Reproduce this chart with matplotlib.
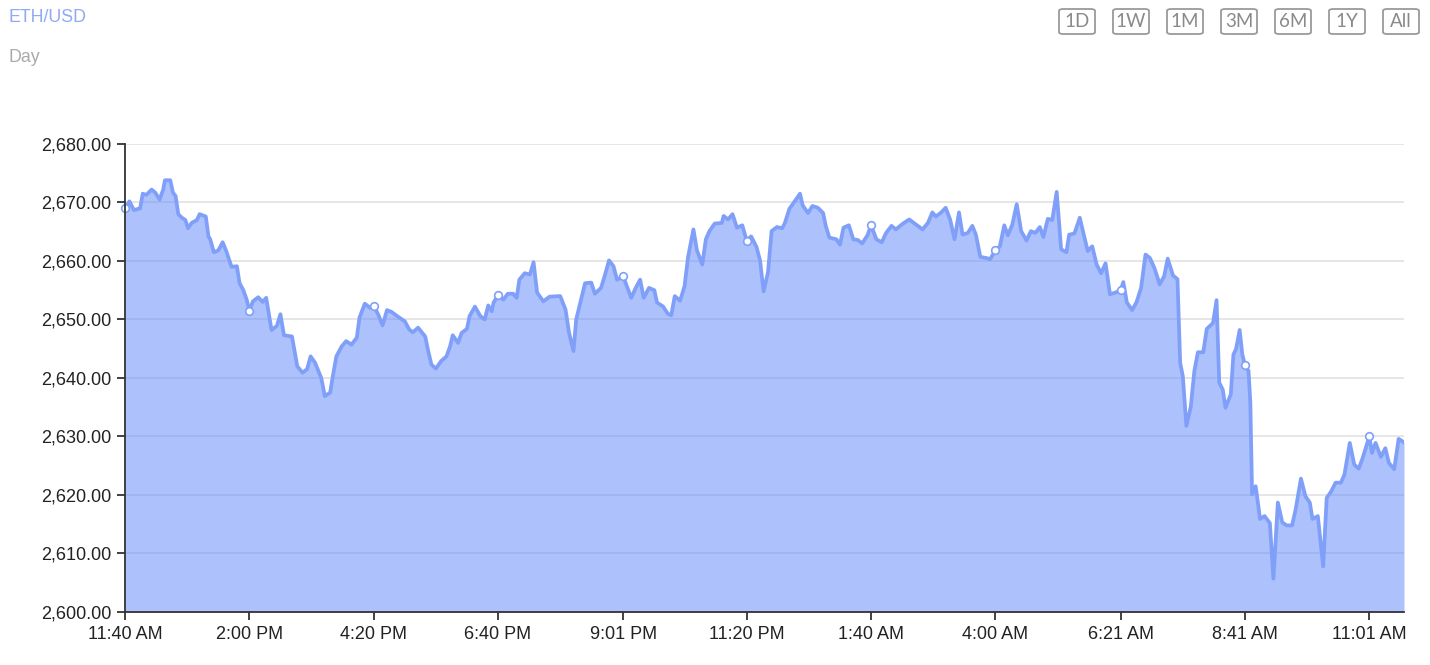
"""ETH/USD day chart: area under a price line, with range buttons across the top."""
import matplotlib
matplotlib.use("Agg")
import matplotlib.pyplot as plt
from matplotlib.patches import FancyBboxPatch
from matplotlib.ticker import FuncFormatter, MultipleLocator

LINE_COLOR = "#809ff8"
FILL_COLOR = "#5d87fb"
GRID_COLOR = "#e6e6e6"
AXIS_COLOR = "#333333"

# minutes since 11:40 AM, and the ETH/USD price at that time
TIMES = [
    0, 5, 10, 17, 20, 24, 30, 34, 39, 43, 45, 51, 54, 57, 60, 64, 68, 71, 75, 81,
    84, 91, 94, 96, 100, 105, 110, 114, 120, 126, 129, 133, 137, 140, 144, 150, 155, 159, 165, 171,
    175, 179, 188, 194, 200, 205, 209, 214, 221, 225, 231, 234, 238, 244, 249, 255, 261, 264, 270, 276,
    280, 285, 290, 295, 300, 309, 315, 320, 324, 330, 338, 341, 345, 350, 356, 362, 366, 369, 375, 379,
    385, 388, 394, 400, 405, 409, 413, 415, 420, 426, 431, 437, 441, 444, 450, 456, 460, 464, 471, 478,
    490, 496, 500, 505, 508, 513, 518, 525, 529, 536, 540, 545, 550, 554, 561, 565, 570, 575, 580, 584,
    590, 596, 599, 606, 611, 615, 619, 625, 630, 634, 640, 644, 650, 654, 658, 664, 672, 674, 679, 684,
    689, 695, 700, 705, 711, 715, 719, 724, 728, 734, 740, 743, 748, 754, 760, 763, 769, 774, 780, 786,
    789, 793, 801, 805, 809, 815, 820, 825, 830, 836, 840, 846, 852, 857, 863, 868, 876, 883, 889, 898,
    904, 909, 913, 919, 924, 929, 934, 939, 943, 949, 954, 958, 963, 970, 974, 980, 985, 990, 994, 999,
    1004, 1009, 1015, 1020, 1025, 1030, 1034, 1039, 1044, 1049, 1054, 1060, 1063, 1069, 1075, 1079, 1084, 1089, 1094, 1099,
    1104, 1109, 1115, 1121, 1124, 1128, 1134, 1139, 1144, 1149, 1154, 1159, 1165, 1170, 1174, 1180, 1185, 1188, 1191, 1195,
    1200, 1204, 1208, 1214, 1218, 1225, 1229, 1232, 1236, 1239, 1245, 1248, 1251, 1255, 1258, 1261, 1265, 1267, 1269, 1273,
    1278, 1283, 1289, 1293, 1298, 1303, 1308, 1314, 1318, 1324, 1329, 1334, 1337, 1343, 1349, 1353, 1358, 1363, 1369, 1373,
    1379, 1384, 1389, 1393, 1401, 1404, 1408, 1414, 1419, 1423, 1429, 1434, 1440,
]
PRICES = [
    2669.0, 2670.2, 2668.7, 2669.0, 2671.5, 2671.3, 2672.2, 2671.7, 2670.5, 2672.2, 2673.8, 2673.8, 2671.7, 2671.1, 2668.0, 2667.4, 2667.0, 2665.6, 2666.5, 2667.0,
    2668.0, 2667.6, 2664.2, 2663.7, 2661.5, 2661.8, 2663.2, 2661.7, 2659.0, 2659.1, 2656.2, 2655.1, 2653.4, 2651.5, 2653.1, 2653.8, 2653.0, 2653.7, 2648.2, 2648.9,
    2650.9, 2647.3, 2647.1, 2642.0, 2640.9, 2641.5, 2643.7, 2642.6, 2640.0, 2636.9, 2637.5, 2640.3, 2643.7, 2645.4, 2646.3, 2645.7, 2646.9, 2650.3, 2652.7, 2652.0,
    2652.3, 2650.9, 2649.0, 2651.6, 2651.3, 2650.3, 2649.7, 2648.3, 2647.8, 2648.6, 2647.1, 2644.9, 2642.3, 2641.6, 2642.9, 2643.7, 2645.4, 2647.3, 2646.0, 2647.7,
    2648.4, 2650.6, 2652.2, 2650.6, 2650.0, 2652.4, 2651.4, 2652.9, 2654.1, 2653.4, 2654.4, 2654.4, 2653.7, 2656.8, 2657.9, 2657.7, 2659.8, 2654.6, 2653.1, 2653.9,
    2654.0, 2651.7, 2647.7, 2644.6, 2650.0, 2653.1, 2656.2, 2656.3, 2654.4, 2655.4, 2657.4, 2660.1, 2659.1, 2656.8, 2657.4, 2655.7, 2653.7, 2655.4, 2656.8, 2653.7,
    2655.4, 2655.0, 2652.9, 2652.2, 2651.0, 2650.7, 2654.0, 2653.2, 2655.7, 2660.7, 2665.4, 2661.8, 2659.4, 2663.7, 2665.1, 2666.4, 2666.5, 2667.7, 2667.1, 2668.0,
    2665.7, 2666.1, 2663.5, 2664.2, 2662.4, 2660.1, 2654.8, 2658.1, 2665.1, 2665.8, 2665.6, 2666.5, 2668.9, 2670.2, 2671.5, 2669.5, 2668.2, 2669.4, 2669.1, 2668.2,
    2666.0, 2664.0, 2663.7, 2662.8, 2665.7, 2666.1, 2663.7, 2663.6, 2663.0, 2664.4, 2666.1, 2663.7, 2663.2, 2664.8, 2666.0, 2665.4, 2666.4, 2667.1, 2666.4, 2665.4,
    2666.5, 2668.3, 2667.6, 2668.3, 2669.1, 2667.1, 2663.7, 2668.3, 2664.5, 2664.8, 2666.0, 2664.5, 2660.7, 2660.5, 2660.3, 2661.8, 2662.5, 2666.1, 2664.4, 2666.2,
    2669.7, 2665.1, 2663.5, 2665.1, 2664.8, 2665.8, 2664.1, 2667.2, 2667.0, 2671.8, 2662.0, 2661.5, 2664.5, 2664.7, 2667.4, 2664.8, 2661.7, 2662.5, 2659.4, 2657.9,
    2659.6, 2654.3, 2654.6, 2655.0, 2656.4, 2652.9, 2651.6, 2653.0, 2655.4, 2661.1, 2660.5, 2658.8, 2656.0, 2657.4, 2660.4, 2657.5, 2656.9, 2642.6, 2640.3, 2631.8,
    2635.1, 2641.2, 2644.4, 2644.4, 2648.4, 2649.4, 2653.3, 2639.2, 2638.0, 2634.9, 2637.2, 2644.0, 2645.0, 2648.2, 2644.0, 2642.2, 2641.2, 2635.8, 2620.1, 2621.5,
    2615.9, 2616.4, 2615.2, 2605.7, 2618.7, 2615.3, 2614.8, 2614.8, 2617.5, 2622.8, 2619.8, 2618.7, 2615.9, 2616.4, 2607.8, 2619.5, 2620.6, 2622.1, 2622.1, 2623.5,
    2628.9, 2625.2, 2624.5, 2626.1, 2630.0, 2627.2, 2628.9, 2626.5, 2628.0, 2625.5, 2624.4, 2629.6, 2629.0,
]

TICK_MINUTES = [0, 140, 280, 420, 561, 700, 840, 980, 1121, 1261, 1401]
TICK_LABELS = ["11:40 AM", "2:00 PM", "4:20 PM", "6:40 PM", "9:01 PM", "11:20 PM",
               "1:40 AM", "4:00 AM", "6:21 AM", "8:41 AM", "11:01 AM"]
RANGES = ["1D", "1W", "1M", "3M", "6M", "1Y", "All"]

plt.rcParams["font.family"] = ["Liberation Sans", "DejaVu Sans"]

fig = plt.figure(figsize=(14.3, 6.65), dpi=100)
ax = fig.add_axes((0.0874, 0.0797, 0.8944, 0.7038))

# grid sits under the translucent fill, so it shows through slightly darker
ax.grid(axis="y", color=GRID_COLOR, lw=1.4)
ax.set_axisbelow(True)
ax.fill_between(TIMES, PRICES, 2600, color=FILL_COLOR, alpha=0.5, lw=0, zorder=1)
ax.plot(TIMES, PRICES, color=LINE_COLOR, lw=2.7, solid_joinstyle="round", zorder=3)
mark_t = [t for t in TIMES if t in TICK_MINUTES]
mark_p = [p for t, p in zip(TIMES, PRICES) if t in TICK_MINUTES]
ax.plot(mark_t, mark_p, "o", ms=5.5, mfc="white", mec=LINE_COLOR, mew=1.2, zorder=4,
        clip_on=False)

ax.set_xlim(0, 1440)
ax.set_ylim(2600, 2680)
ax.yaxis.set_major_locator(MultipleLocator(10))
ax.yaxis.set_major_formatter(FuncFormatter(lambda v, _: f"{v:,.2f}"))
ax.set_xticks(TICK_MINUTES)
ax.set_xticklabels(TICK_LABELS)
for spine in ("top", "right"):
    ax.spines[spine].set_visible(False)
for spine in ("left", "bottom"):
    ax.spines[spine].set_color(AXIS_COLOR)
    ax.spines[spine].set_linewidth(1.3)
    ax.spines[spine].set_zorder(5)
ax.tick_params(length=6, width=1.3, color=AXIS_COLOR, labelsize=13, labelcolor="#222222", pad=4)

fig.text(9 / 1430, 1 - 18 / 665, "ETH/USD", color="#8fa9f7", fontsize=12.8, va="center")
fig.text(9 / 1430, 1 - 57 / 665, "Day", color="#aaaaaa", fontsize=12.8, va="center")

# range selector buttons, top right
for i, label in enumerate(RANGES):
    x0 = (1059 + i * 54) / 1430
    y0 = 1 - 34 / 665
    w, h = 36 / 1430, 25 / 665
    fig.patches.append(FancyBboxPatch((x0, y0), w, h, boxstyle="round,pad=0,rounding_size=0.003",
                                      transform=fig.transFigure, fill=False,
                                      ec="#9a9a9a", lw=1.3))
    fig.text(x0 + w / 2, y0 + h / 2, label, ha="center", va="center", color="#8a8a8a",
             fontsize=13.5, family=["Lato", "DejaVu Sans"])

fig.savefig("out.png", dpi=100)
